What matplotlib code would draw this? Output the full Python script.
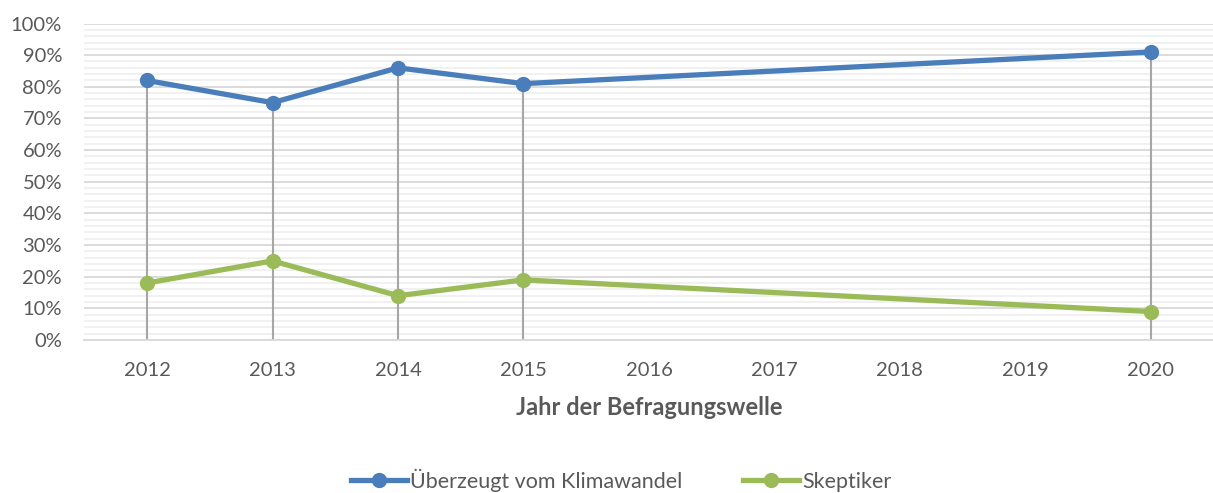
import matplotlib
matplotlib.use("Agg")
import matplotlib.pyplot as plt
from matplotlib.ticker import MultipleLocator, FuncFormatter
from matplotlib.lines import Line2D

years = [2012, 2013, 2014, 2015, 2020]
ueberzeugt = [82, 75, 86, 81, 91]
skeptiker = [18, 25, 14, 19, 9]
tick_years = [2012, 2013, 2014, 2015, 2016, 2017, 2018, 2019, 2020]
series_names = ["Überzeugt vom Klimawandel", "Skeptiker"]
x_title = "Jahr der Befragungswelle"

plt.rcParams['font.family'] = ['Lato', 'DejaVu Sans']
text_color = "#595959"
blue = "#4a7ebb"
green = "#9bbb59"

fig = plt.figure(figsize=(12.13, 4.93), dpi=100)
ax = fig.add_axes([0.0695, 0.3103, 0.931, 0.642])

ax.set_xlim(2011.5, 2020.5)
ax.set_ylim(0, 100)

ax.yaxis.set_major_locator(MultipleLocator(10))
ax.yaxis.set_minor_locator(MultipleLocator(2))
ax.yaxis.set_major_formatter(FuncFormatter(lambda v, p: f"{int(round(v))}%"))
ax.set_xticks(tick_years)
ax.set_xticklabels([str(y) for y in tick_years])

ax.grid(which='minor', axis='y', color='#f0f0f0', linewidth=1.3, zorder=0)
ax.grid(which='major', axis='y', color='#d9d9d9', linewidth=1.3, zorder=0)
ax.set_axisbelow(True)

for s in ['top', 'right', 'left']:
    ax.spines[s].set_visible(False)
ax.spines['bottom'].set_color('#d9d9d9')
ax.spines['bottom'].set_linewidth(1.3)

ax.tick_params(axis='both', which='both', length=0, colors=text_color, labelsize=14.5)
ax.tick_params(axis='y', pad=16)
ax.tick_params(axis='x', pad=16)

tops = [max(a, b) for a, b in zip(ueberzeugt, skeptiker)]
ax.vlines(years, 0, tops, color='#a6a6a6', linewidth=1.5, zorder=2)

ax.plot(years, ueberzeugt, color=blue, linewidth=3.8, marker='o', markersize=10,
        solid_capstyle='round', zorder=3)
ax.plot(years, skeptiker, color=green, linewidth=3.8, marker='o', markersize=10,
        solid_capstyle='round', zorder=3)

ax.set_xlabel(x_title, fontsize=17, fontweight='bold', color=text_color, labelpad=12)

handles = [Line2D([], [], color=blue, linewidth=3.8, marker='o', markersize=10),
           Line2D([], [], color=green, linewidth=3.8, marker='o', markersize=10)]
fig.legend(handles, series_names, loc='center', bbox_to_anchor=(0.512, 0.026),
           ncol=2, frameon=False, fontsize=15.5, labelcolor=text_color,
           handlelength=2.6, handletextpad=0.15, columnspacing=2.8)

fig.savefig("out.png", dpi=100)
